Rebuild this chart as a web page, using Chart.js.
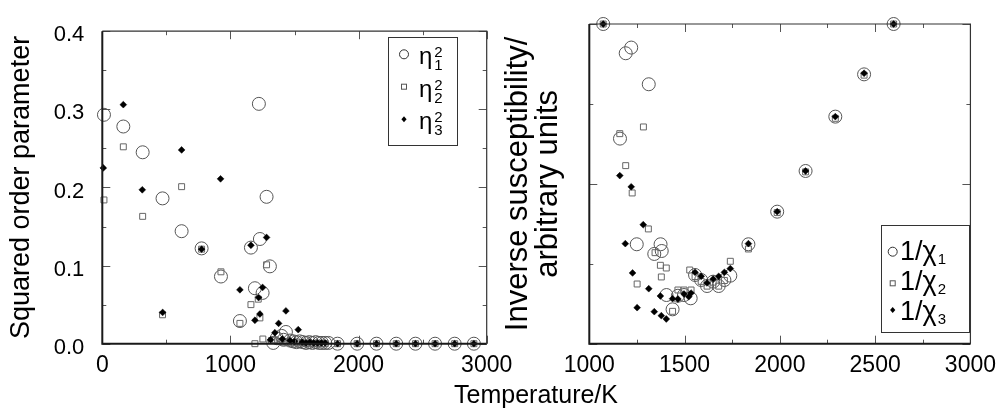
<!DOCTYPE html>
<html><head><meta charset="utf-8">
<script src="https://cdn.jsdelivr.net/npm/chart.js@4.4.0/dist/chart.umd.min.js"></script>
<style>
html,body{margin:0;padding:0;background:#fff;width:1004px;height:413px;overflow:hidden;}
#c1{position:absolute;left:0;top:0;z-index:2;}
#c2{position:absolute;left:480px;top:0;z-index:1;}
</style></head><body>
<canvas id="c1" width="660" height="413"></canvas>
<canvas id="c2" width="524" height="413"></canvas>
<script>
// ---------- data: left panel (squared order parameters) ----------
const eta1T = [13, 164, 315, 470, 619, 775, 926, 1074, 1160, 1191, 1222, 1230, 1251, 1282, 1308, 1334, 1362, 1399, 1415, 1433, 1465, 1490, 1515, 1540, 1565, 1590, 1615, 1640, 1665, 1690, 1715, 1740, 1765, 1836, 1989, 2140, 2294, 2444, 2597, 2750, 2900];
const eta1V = [0.293, 0.278, 0.245, 0.186, 0.144, 0.122, 0.086, 0.029, 0.123, 0.071, 0.307, 0.134, 0.065, 0.188, 0.099, 0.001, 0.007, 0.010, 0.005, 0.015, 0.004, 0.003, 0.002, 0.003, 0.002, 0.001, 0.002, 0.001, 0.002, 0.001, 0.001, 0.001, 0.001, 0, 0, 0, 0, 0, 0, 0, 0];
const eta2T = [13, 164, 315, 470, 619, 775, 926, 1074, 1160, 1191, 1217, 1230, 1253, 1282, 1320, 1350, 1380, 1410, 1440, 1470, 1500, 1530, 1560, 1590, 1620, 1650, 1680, 1710, 1740, 1836, 1989, 2140, 2294, 2444, 2597, 2750, 2900];
const eta2V = [0.184, 0.252, 0.163, 0.037, 0.201, 0.121, 0.092, 0.026, 0.050, 0.000, 0.057, 0.033, 0.006, 0.101, 0.004, 0.005, 0.003, 0.002, 0.002, 0.001, 0.001, 0.001, 0.001, 0, 0, 0, 0, 0, 0, 0, 0, 0, 0, 0, 0, 0, 0];
const eta3T = [8, 164, 312, 471, 619, 775, 923, 1074, 1160, 1191, 1220, 1230, 1251, 1282, 1313, 1347, 1376, 1405, 1433, 1465, 1500, 1529, 1560, 1590, 1620, 1650, 1680, 1710, 1740, 1836, 1989, 2140, 2294, 2444, 2597, 2750, 2900];
const eta3V = [0.225, 0.306, 0.197, 0.040, 0.248, 0.121, 0.211, 0.069, 0.126, 0.030, 0.059, 0.038, 0.072, 0.136, 0.005, 0.014, 0.026, 0.006, 0.042, 0.004, 0.003, 0.018, 0.002, 0.001, 0.002, 0.001, 0.001, 0.001, 0.001, 0, 0, 0, 0, 0, 0, 0, 0];

// ---------- data: right panel (inverse susceptibilities, arbitrary units) ----------
const chi1T = [1073, 1161, 1191, 1220, 1249, 1312, 1341, 1374, 1380, 1405, 1437, 1465, 1497, 1532, 1555, 1587, 1618, 1650, 1679, 1709, 1740, 1835, 1986, 2135, 2291, 2442, 2597];
const chi1V = [4.0, 2.566, 3.634, 3.705, 1.244, 3.246, 1.123, 1.244, 1.160, 0.609, 0.430, 0.600, 0.609, 0.568, 0.860, 0.797, 0.722, 0.776, 0.722, 0.797, 0.851, 1.244, 1.652, 2.161, 2.841, 3.370, 4.0];
const chi2T = [1073, 1160, 1191, 1225, 1251, 1284, 1310, 1345, 1373, 1378, 1404, 1437, 1465, 1497, 1527, 1534, 1555, 1587, 1618, 1650, 1679, 1709, 1740, 1835, 1986, 2135, 2291, 2442, 2597];
const chi2V = [4.0, 2.628, 2.228, 1.886, 0.747, 2.712, 1.436, 1.139, 0.981, 0.835, 0.947, 0.405, 0.672, 0.672, 0.922, 0.672, 0.840, 0.780, 0.720, 0.770, 0.720, 0.790, 1.031, 1.185, 1.640, 2.150, 2.820, 3.360, 4.0];
const chi3T = [1073, 1160, 1189, 1220, 1227, 1251, 1283, 1312, 1341, 1373, 1378, 1404, 1437, 1465, 1497, 1522, 1534, 1555, 1587, 1618, 1650, 1679, 1709, 1740, 1835, 1986, 2135, 2291, 2442, 2597];
const chi3V = [4.0, 2.103, 1.252, 1.963, 0.885, 0.451, 1.489, 0.688, 0.401, 0.597, 0.351, 0.309, 0.563, 0.559, 0.622, 0.588, 0.634, 0.893, 0.843, 0.760, 0.810, 0.843, 0.893, 0.940, 1.252, 1.652, 2.161, 2.841, 3.384, 4.0];

// ---------- tick positions ----------
const leftXMajor = [0, 1000, 2000, 3000];
const leftXMinor = [500, 1500, 2500];
const leftYMajor = [0, 0.1, 0.2, 0.3, 0.4];
const leftYMinor = [0.05, 0.15, 0.25, 0.35];
const rightXMajor = [1000, 1500, 2000, 2500, 3000];
const rightXMinor = [1250, 1750, 2250, 2750];
const rightYMajor = [0, 2, 4];
const rightYMinor = [1, 3];

const FONT = "'Liberation Sans', Arial, Helvetica, sans-serif";

function pts(T, V) { return T.map((t, i) => ({x: t, y: V[i]})); }

function markerSets(d1, d2, d3, labels) {
  return [
    {label: labels[0], data: d1, pointStyle: 'circle', pointRadius: 6.5, pointHoverRadius: 6.5,
     borderColor: '#555', backgroundColor: 'rgba(0,0,0,0)', pointBorderWidth: 1, order: 3, showLine: false, clip: false},
    {label: labels[1], data: d2, pointStyle: 'rect', pointRadius: 4.2, pointHoverRadius: 4.2,
     borderColor: '#666', backgroundColor: 'rgba(0,0,0,0)', pointBorderWidth: 1, order: 2, showLine: false, clip: false},
    {label: labels[2], data: d3, pointStyle: 'rectRot', pointRadius: 3.4, pointHoverRadius: 3.4,
     borderColor: '#000', backgroundColor: '#000', pointBorderWidth: 0.5, order: 1, showLine: false, clip: false}
  ];
}

function drawMarker(ctx, kind, x, y) {
  ctx.save();
  ctx.lineWidth = 1;
  if (kind === 0) {
    ctx.strokeStyle = '#333';
    ctx.beginPath(); ctx.arc(x, y, 4.5, 0, Math.PI * 2); ctx.stroke();
  } else if (kind === 1) {
    ctx.strokeStyle = '#555';
    ctx.strokeRect(x - 2.5, y - 2.5, 5, 5);
  } else {
    ctx.fillStyle = '#000';
    ctx.beginPath(); ctx.moveTo(x, y - 3); ctx.lineTo(x + 2.6, y); ctx.lineTo(x, y + 3); ctx.lineTo(x - 2.6, y); ctx.closePath(); ctx.fill();
  }
  ctx.restore();
}

const framePlugin = {
  id: 'frame',
  afterDatasetsDraw(chart, args, o) {
    const {ctx, chartArea: a, scales: {x, y}} = chart;
    ctx.save();
    ctx.strokeStyle = '#555';
    ctx.lineWidth = 1;
    const xt = (list, len) => list.forEach(v => {
      const p = Math.round(x.getPixelForValue(v)) + 0.5;
      ctx.beginPath();
      ctx.moveTo(p, a.top); ctx.lineTo(p, a.top + len);
      ctx.moveTo(p, a.bottom); ctx.lineTo(p, a.bottom - len);
      ctx.stroke();
    });
    const yt = (list, len) => list.forEach(v => {
      const p = Math.round(y.getPixelForValue(v)) + 0.5;
      ctx.beginPath();
      ctx.moveTo(a.left, p); ctx.lineTo(a.left + len, p);
      ctx.moveTo(a.right, p); ctx.lineTo(a.right - len, p);
      ctx.stroke();
    });
    xt(o.xMajor, 8); xt(o.xMinor, 4);
    yt(o.yMajor, 8); yt(o.yMinor, 4);
    ctx.strokeStyle = '#333';
    ctx.lineWidth = 1.2;
    ctx.beginPath();
    ctx.moveTo(a.left, a.top); ctx.lineTo(a.right, a.top); ctx.lineTo(a.right, a.bottom);
    ctx.stroke();
    ctx.strokeStyle = '#1a1a1a';
    ctx.lineWidth = 2;
    ctx.beginPath();
    ctx.moveTo(a.left, a.top); ctx.lineTo(a.left, a.bottom); ctx.lineTo(a.right, a.bottom);
    ctx.stroke();
    ctx.restore();
  },
  afterDraw(chart, args, o) {
    const ctx = chart.ctx;
    const L = o.legend;
    ctx.save();
    ctx.fillStyle = '#fff';
    ctx.fillRect(L.x, L.y, L.w, L.h);
    ctx.strokeStyle = '#333';
    ctx.lineWidth = 1;
    ctx.strokeRect(L.x + 0.5, L.y + 0.5, L.w, L.h);
    ctx.fillStyle = '#000';
    ctx.textBaseline = 'alphabetic';
    ctx.textAlign = 'left';
    L.items.forEach((it, i) => {
      drawMarker(ctx, i, L.mx, it.my);
      ctx.font = L.mainSize + 'px ' + FONT;
      ctx.fillText(L.main, L.tx, it.base);
      const w = ctx.measureText(L.main).width;
      ctx.font = L.smallSize + 'px ' + FONT;
      if (L.sup) ctx.fillText(L.sup, L.tx + w + L.gap, it.base + L.supDy);
      ctx.fillText(it.sub, L.tx + w + L.gap, it.base + L.subDy);
    });
    if (o.xTitle) {
      ctx.font = o.xTitle.size + 'px ' + FONT;
      ctx.textAlign = 'center';
      ctx.textBaseline = 'middle';
      ctx.fillText(o.xTitle.text, o.xTitle.x, o.xTitle.y);
    }
    ctx.restore();
  }
};

const common = {
  responsive: false,
  animation: false,
  events: []
};

// ---------- left chart ----------
new Chart(document.getElementById('c1'), {
  type: 'scatter',
  data: {datasets: markerSets(pts(eta1T, eta1V), pts(eta2T, eta2V), pts(eta3T, eta3V), ['η₁²', 'η₂²', 'η₃²'])},
  plugins: [framePlugin],
  options: Object.assign({}, common, {
    layout: {padding: {left: 0, top: 24, right: 660 - 486.7, bottom: 0}},
    plugins: {
      legend: {display: false}, tooltip: {enabled: false},
      frame: {
        xMajor: leftXMajor, xMinor: leftXMinor, yMajor: leftYMajor, yMinor: leftYMinor,
        legend: {x: 388, y: 37, w: 69, h: 108, mx: 404, tx: 419, main: 'η', sup: '2', mainSize: 24, smallSize: 15,
                 gap: 2, supDy: -7, subDy: 6,
                 items: [{my: 54.3, base: 64, sub: '1'}, {my: 86.7, base: 96.5, sub: '2'}, {my: 119.3, base: 129, sub: '3'}]},
        xTitle: {text: 'Temperature/K', x: 536, y: 396, size: 25}
      }
    },
    scales: {
      x: {
        type: 'linear', position: 'bottom', min: 0, max: 3000,
        afterFit(s) { s.height = 69.3; },
        ticks: {stepSize: 1000, autoSkip: false, maxRotation: 0, padding: 8, color: '#000', font: {family: FONT, size: 23},
                callback: v => String(v)},
        grid: {display: false, drawTicks: false}, border: {display: false}
      },
      y: {
        type: 'linear', position: 'left', min: 0, max: 0.4,
        afterFit(s) { s.width = 102.3; },
        ticks: {stepSize: 0.1, padding: 18, labelOffset: 4, color: '#000', font: {family: FONT, size: 22},
                callback: v => Number(v).toFixed(1)},
        grid: {display: false, drawTicks: false}, border: {display: false},
        title: {display: true, text: 'Squared order parameter', color: '#000',
                font: {family: FONT, size: 27, lineHeight: '30px'}, padding: {top: 7, bottom: 0}}
      }
    }
  })
});

// ---------- right chart ----------
new Chart(document.getElementById('c2'), {
  type: 'scatter',
  data: {datasets: markerSets(pts(chi1T, chi1V), pts(chi2T, chi2V), pts(chi3T, chi3V), ['1/χ₁', '1/χ₂', '1/χ₃'])},
  plugins: [framePlugin],
  options: Object.assign({}, common, {
    layout: {padding: {left: 20, top: 24, right: 29.9, bottom: 0}},
    plugins: {
      legend: {display: false}, tooltip: {enabled: false},
      frame: {
        xMajor: rightXMajor, xMinor: rightXMinor, yMajor: rightYMajor, yMinor: rightYMinor,
        legend: {x: 401, y: 225, w: 88, h: 107, mx: 412.7, tx: 420, main: '1/χ', sup: '', mainSize: 27, smallSize: 15,
                 gap: 1, supDy: 0, subDy: 4,
                 items: [{my: 251.7, base: 259.5, sub: '1'}, {my: 283.3, base: 290, sub: '2'}, {my: 310, base: 320, sub: '3'}]}
      }
    },
    scales: {
      x: {
        type: 'linear', position: 'bottom', min: 1000, max: 3000,
        afterFit(s) { s.height = 69.3; },
        ticks: {stepSize: 500, autoSkip: false, maxRotation: 0, padding: 8, color: '#000', font: {family: FONT, size: 23},
                callback: v => String(v)},
        grid: {display: false, drawTicks: false}, border: {display: false}
      },
      y: {
        type: 'linear', position: 'left', min: 0, max: 4,
        afterFit(s) { s.width = 89.3; },
        ticks: {display: false, stepSize: 1},
        grid: {display: false, drawTicks: false}, border: {display: false},
        title: {display: true, text: ['Inverse susceptibility/', 'arbitrary units'], color: '#000',
                font: {family: FONT, size: 31, lineHeight: '30px'}, padding: {top: 3, bottom: 0}}
      }
    }
  })
});
</script>
</body></html>
